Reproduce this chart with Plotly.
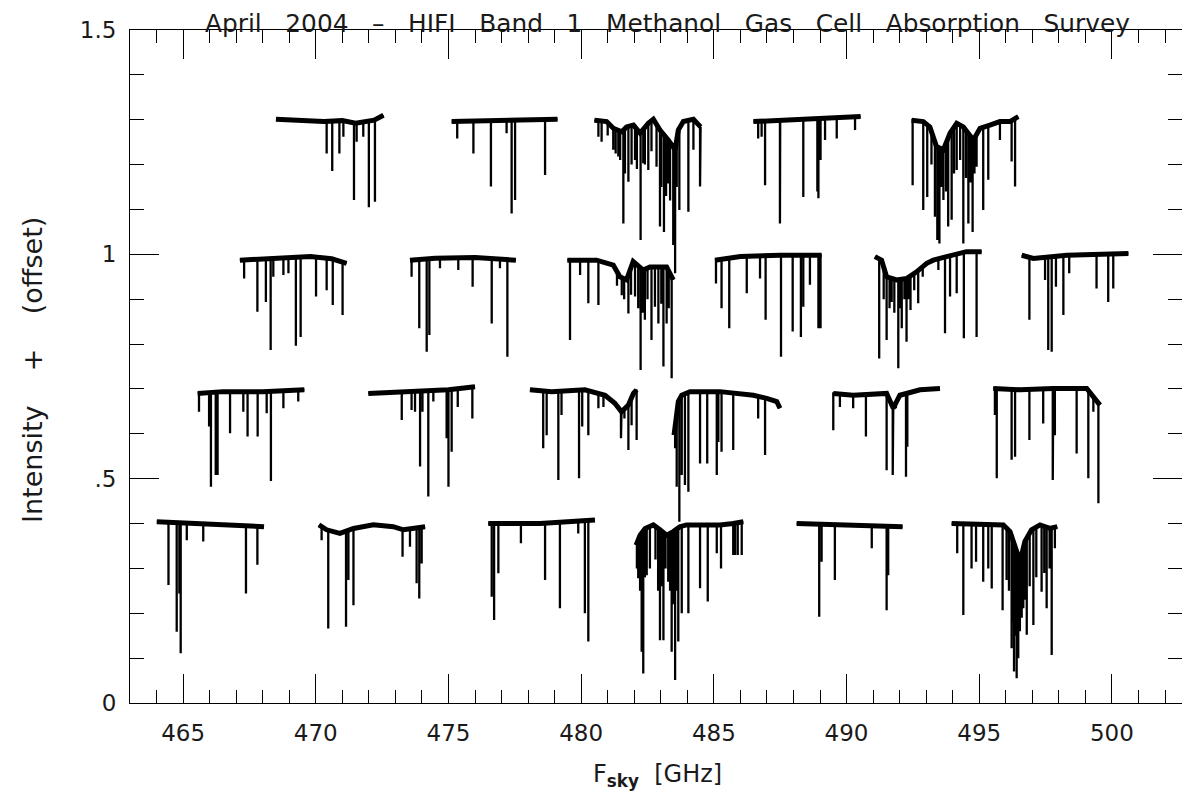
import numpy as np
import plotly.graph_objects as go

# ---------------- data (frequency in GHz, intensity + offset) ----------------
# each segment: continuum knots (f, level) and absorption lines (f, minimum)
r1a_cont = [(468.50, 1.301), (469.30, 1.298), (470.30, 1.296), (471.00, 1.298), (471.50, 1.292), (472.20, 1.299), (472.55, 1.310)]
r1a_lines = [(470.41, 1.225), (470.62, 1.186), (470.89, 1.225), (471.04, 1.262), (471.44, 1.121), (471.54, 1.251),
             (471.79, 1.262), (472.00, 1.105), (472.23, 1.117)]
r1b_cont = [(475.12, 1.296), (476.30, 1.298), (477.80, 1.299), (479.11, 1.301)]
r1b_lines = [(475.33, 1.258), (475.94, 1.225), (476.60, 1.151), (477.19, 1.270), (477.38, 1.091), (477.51, 1.121), (478.64, 1.177)]
r1c_cont = [(480.50, 1.299), (480.96, 1.296), (481.21, 1.281), (481.53, 1.273), (481.71, 1.284), (481.97, 1.288), (482.22, 1.270),
            (482.53, 1.292), (482.72, 1.301), (482.97, 1.277), (483.28, 1.255), (483.54, 1.233), (483.66, 1.277), (483.85, 1.296),
            (484.23, 1.301), (484.50, 1.284)]
r1c_lines = [(480.65, 1.262), (480.77, 1.251), (481.00, 1.265), (481.21, 1.233), (481.30, 1.225), (481.40, 1.218), (481.47, 1.210),
             (481.59, 1.069), (481.65, 1.180), (481.78, 1.162), (481.90, 1.200), (482.03, 1.210), (482.10, 1.190), (482.24, 1.032),
             (482.34, 1.203), (482.40, 1.200), (482.53, 1.188), (482.65, 1.230), (482.84, 1.195), (482.97, 1.062), (483.02, 1.150),
             (483.12, 1.050), (483.20, 1.130), (483.28, 1.158), (483.35, 1.120), (483.47, 1.021), (483.54, 0.958), (483.60, 1.150),
             (483.70, 1.099), (484.04, 1.095), (484.23, 1.233), (484.48, 1.151)]
r1d_cont = [(486.49, 1.296), (487.50, 1.299), (489.00, 1.301), (490.53, 1.307)]
r1d_lines = [(486.67, 1.258), (486.80, 1.262), (486.93, 1.154), (487.49, 1.069), (488.37, 1.128), (488.90, 1.140), (488.94, 1.125),
             (489.02, 1.210), (489.19, 1.255), (489.63, 1.258), (490.32, 1.277)]
r1e_cont = [(492.45, 1.299), (492.89, 1.296), (493.14, 1.284), (493.39, 1.240), (493.65, 1.233), (493.90, 1.270), (494.15, 1.292),
            (494.40, 1.284), (494.78, 1.255), (495.03, 1.281), (495.40, 1.288), (495.78, 1.296), (496.16, 1.296), (496.47, 1.307)]
r1e_lines = [(492.49, 1.154), (492.89, 1.099), (493.04, 1.128), (493.20, 1.200), (493.33, 1.084), (493.42, 1.032), (493.50, 1.024),
             (493.58, 1.150), (493.65, 1.121), (493.75, 1.140), (493.83, 1.062), (493.96, 1.077), (494.05, 1.180), (494.15, 1.188),
             (494.28, 1.210), (494.40, 1.024), (494.50, 1.170), (494.59, 1.069), (494.67, 1.160), (494.75, 1.050), (494.82, 1.180),
             (494.90, 1.195), (495.15, 1.099), (495.34, 1.166), (495.78, 1.255), (496.22, 1.207), (496.35, 1.151)]

r2a_cont = [(467.14, 0.987), (468.50, 0.992), (469.80, 0.995), (470.60, 0.990), (471.16, 0.980)]
r2a_lines = [(467.30, 0.946), (467.80, 0.872), (468.12, 0.894), (468.30, 0.787), (468.40, 0.950), (468.78, 0.954), (468.97, 0.958),
             (469.25, 0.796), (469.43, 0.816), (470.01, 0.906), (470.41, 0.920), (470.64, 0.887), (471.01, 0.865)]
r2b_cont = [(473.55, 0.987), (474.50, 0.991), (476.00, 0.993), (477.54, 0.987)]
r2b_lines = [(473.61, 0.950), (473.90, 0.835), (474.18, 0.783), (474.28, 0.820), (474.68, 0.969), (475.37, 0.965), (475.91, 0.928),
             (476.63, 0.846), (476.94, 0.969), (477.22, 0.772)]
r2c_cont = [(479.48, 0.987), (480.58, 0.987), (481.21, 0.976), (481.46, 0.950), (481.71, 0.943), (481.96, 0.984), (482.34, 0.965),
            (482.59, 0.972), (482.97, 0.972), (483.22, 0.972), (483.47, 0.943)]
r2c_lines = [(479.58, 0.809), (479.96, 0.954), (480.27, 0.891), (480.65, 0.887), (481.35, 0.930), (481.53, 0.909), (481.62, 0.900),
             (481.78, 0.868), (481.88, 0.910), (482.03, 0.906), (482.15, 0.880), (482.24, 0.742), (482.32, 0.870), (482.40, 0.854),
             (482.50, 0.900), (482.65, 0.809), (482.78, 0.883), (482.91, 0.846), (483.02, 0.890), (483.10, 0.750), (483.22, 0.846),
             (483.30, 0.880), (483.41, 0.724)]
r2d_cont = [(485.04, 0.987), (486.00, 0.995), (487.50, 0.998), (489.06, 0.998)]
r2d_lines = [(485.08, 0.935), (485.29, 0.880), (485.58, 0.835), (486.24, 0.913), (486.74, 0.946), (486.95, 0.854), (487.53, 0.772),
             (487.97, 0.828), (488.28, 0.816), (488.37, 0.883), (488.62, 0.932), (488.94, 0.835), (489.02, 0.835)]
r2e_cont = [(491.07, 0.995), (491.32, 0.987), (491.51, 0.950), (491.89, 0.943), (492.26, 0.946), (492.64, 0.961), (493.02, 0.980),
            (493.27, 0.987), (493.77, 0.995), (494.27, 1.002), (494.52, 1.006), (495.09, 1.006)]
r2e_lines = [(491.23, 0.768), (491.40, 0.900), (491.51, 0.809), (491.62, 0.880), (491.70, 0.894), (491.80, 0.870), (491.95, 0.746),
             (492.02, 0.880), (492.08, 0.835), (492.18, 0.900), (492.26, 0.805), (492.34, 0.900), (492.41, 0.876), (492.55, 0.920),
             (492.70, 0.891), (492.87, 0.950), (493.46, 0.965), (493.71, 0.824), (493.90, 0.906), (494.15, 0.913), (494.42, 0.813),
             (494.90, 0.816)]
r2f_cont = [(496.60, 0.998), (497.04, 0.991), (498.30, 0.998), (500.62, 1.002)]
r2f_lines = [(496.89, 0.854), (497.48, 0.943), (497.60, 0.787), (497.73, 0.783), (497.89, 0.928), (498.17, 0.865), (498.39, 0.958),
             (499.42, 0.924), (499.86, 0.894), (500.05, 0.924)]

r3a_cont = [(465.55, 0.690), (466.50, 0.694), (468.00, 0.694), (469.57, 0.698)]
r3a_lines = [(465.60, 0.649), (465.98, 0.616), (466.05, 0.482), (466.23, 0.508), (466.30, 0.508), (466.77, 0.601), (467.27, 0.649),
             (467.43, 0.594), (467.81, 0.594), (468.15, 0.646), (468.31, 0.495), (468.78, 0.657), (469.34, 0.672)]
r3b_cont = [(471.98, 0.690), (473.50, 0.694), (475.00, 0.698), (476.00, 0.705)]
r3b_lines = [(473.24, 0.631), (473.61, 0.653), (473.74, 0.649), (473.93, 0.527), (474.02, 0.649), (474.24, 0.460), (474.43, 0.672),
             (474.93, 0.590), (475.00, 0.482), (475.12, 0.560), (475.35, 0.660), (475.90, 0.634)]
r3c_cont = [(478.07, 0.698), (478.89, 0.694), (480.14, 0.698), (480.90, 0.686), (481.27, 0.668), (481.52, 0.649), (481.78, 0.664),
            (481.97, 0.690), (482.09, 0.698)]
r3c_lines = [(478.57, 0.568), (478.70, 0.597), (479.14, 0.497), (479.26, 0.642), (479.92, 0.501), (480.04, 0.616), (480.27, 0.597),
             (480.65, 0.657), (480.84, 0.660), (481.50, 0.590), (481.63, 0.634), (481.78, 0.564), (481.90, 0.619), (482.09, 0.586)]
r3d_cont = [(483.50, 0.597), (483.66, 0.672), (483.79, 0.686), (484.10, 0.694), (485.23, 0.694), (486.49, 0.686), (486.99, 0.679),
            (487.37, 0.672), (487.49, 0.657)]
r3d_lines = [(483.54, 0.568), (483.60, 0.482), (483.70, 0.404), (483.79, 0.508), (483.91, 0.486), (484.04, 0.471), (484.48, 0.534),
             (484.75, 0.534), (485.11, 0.508), (485.17, 0.582), (485.29, 0.560), (485.73, 0.564), (486.67, 0.634), (486.93, 0.553)]
r3e_cont = [(489.50, 0.690), (490.25, 0.686), (491.51, 0.690), (491.76, 0.657), (492.01, 0.686), (492.77, 0.698), (493.52, 0.701)]
r3e_lines = [(489.50, 0.608), (489.75, 0.660), (490.25, 0.657), (490.73, 0.594), (491.51, 0.519), (491.74, 0.508), (491.86, 0.657),
             (492.24, 0.504), (492.29, 0.571)]
r3f_cont = [(495.53, 0.701), (496.54, 0.698), (497.79, 0.701), (499.05, 0.701), (499.55, 0.664)]
r3f_lines = [(495.59, 0.642), (495.66, 0.501), (496.22, 0.542), (496.35, 0.549), (496.89, 0.586), (497.41, 0.623), (497.77, 0.497),
             (497.85, 0.597), (498.67, 0.556), (499.11, 0.501), (499.30, 0.649), (499.49, 0.445)]

r4a_cont = [(464.01, 0.404), (465.89, 0.400), (468.05, 0.393)]
r4a_lines = [(464.45, 0.263), (464.76, 0.159), (464.86, 0.244), (464.91, 0.111), (465.14, 0.363), (465.76, 0.360), (467.37, 0.244),
             (467.80, 0.308)]
r4b_cont = [(470.12, 0.397), (470.41, 0.386), (470.91, 0.378), (471.42, 0.389), (472.17, 0.397), (472.92, 0.393), (473.30, 0.386),
            (474.12, 0.393)]
r4b_lines = [(470.22, 0.363), (470.47, 0.166), (471.14, 0.170), (471.23, 0.274), (471.42, 0.218), (473.27, 0.326), (473.55, 0.348),
             (473.80, 0.267), (473.90, 0.233), (473.99, 0.311)]
r4c_cont = [(476.50, 0.400), (478.45, 0.400), (480.52, 0.408)]
r4c_lines = [(476.63, 0.237), (476.72, 0.185), (476.88, 0.289), (477.73, 0.356), (478.64, 0.274), (479.20, 0.211), (479.89, 0.378),
             (480.14, 0.200), (480.27, 0.137)]
r4d_cont = [(482.07, 0.352), (482.22, 0.374), (482.41, 0.389), (482.72, 0.397), (482.97, 0.386), (483.22, 0.374), (483.47, 0.382),
            (483.72, 0.393), (483.97, 0.397), (484.60, 0.397), (485.23, 0.397), (485.73, 0.400), (486.11, 0.404)]
r4d_lines = [(482.10, 0.300), (482.15, 0.278), (482.22, 0.250), (482.28, 0.114), (482.34, 0.066), (482.40, 0.280), (482.47, 0.285),
             (482.59, 0.300), (482.80, 0.320), (482.90, 0.250), (482.97, 0.140), (483.03, 0.260), (483.10, 0.140), (483.18, 0.300),
             (483.28, 0.270), (483.35, 0.250), (483.41, 0.114), (483.48, 0.220), (483.54, 0.051), (483.60, 0.250), (483.66, 0.137),
             (483.79, 0.200), (484.04, 0.200), (484.48, 0.256), (484.77, 0.226), (485.11, 0.334), (485.27, 0.300), (485.73, 0.330),
             (485.80, 0.330), (485.90, 0.330), (486.05, 0.330)]
r4e_cont = [(488.12, 0.400), (490.00, 0.397), (492.11, 0.393)]
r4e_lines = [(488.97, 0.192), (489.06, 0.315), (489.56, 0.274), (490.95, 0.345), (491.51, 0.207), (491.57, 0.285)]
r4f_cont = [(493.96, 0.400), (495.91, 0.397), (496.16, 0.382), (496.35, 0.345), (496.54, 0.315), (496.72, 0.360), (496.97, 0.386),
            (497.29, 0.397), (497.66, 0.389), (497.94, 0.393)]
r4f_lines = [(494.17, 0.334), (494.40, 0.196), (494.71, 0.300), (494.88, 0.315), (495.15, 0.270), (495.34, 0.300), (495.47, 0.255),
             (495.88, 0.207), (496.03, 0.274), (496.12, 0.250), (496.22, 0.122), (496.27, 0.180), (496.31, 0.070), (496.36, 0.150),
             (496.41, 0.055), (496.47, 0.100), (496.53, 0.160), (496.60, 0.190), (496.66, 0.211), (496.72, 0.230), (496.79, 0.152),
             (496.90, 0.260), (497.04, 0.174), (497.15, 0.280), (497.35, 0.248), (497.45, 0.290), (497.54, 0.211), (497.65, 0.300),
             (497.73, 0.107), (497.85, 0.345)]

x_tick_vals = [465, 470, 475, 480, 485, 490, 495, 500]
y_tick_vals = [0, 0.5, 1, 1.5]
y_tick_text = ["0", ".5", "1", "1.5"]

SEGMENTS = [
    (r1a_cont, r1a_lines), (r1b_cont, r1b_lines), (r1c_cont, r1c_lines), (r1d_cont, r1d_lines), (r1e_cont, r1e_lines),
    (r2a_cont, r2a_lines), (r2b_cont, r2b_lines), (r2c_cont, r2c_lines), (r2d_cont, r2d_lines), (r2e_cont, r2e_lines),
    (r2f_cont, r2f_lines),
    (r3a_cont, r3a_lines), (r3b_cont, r3b_lines), (r3c_cont, r3c_lines), (r3d_cont, r3d_lines), (r3e_cont, r3e_lines),
    (r3f_cont, r3f_lines),
    (r4a_cont, r4a_lines), (r4b_cont, r4b_lines), (r4c_cont, r4c_lines), (r4d_cont, r4d_lines), (r4e_cont, r4e_lines),
    (r4f_cont, r4f_lines),
]

# ---------------- build traces ----------------
spec_x, spec_y, cont_x, cont_y = [], [], [], []
for cont, lines in SEGMENTS:
    cf = [c[0] for c in cont]
    cl = [c[1] for c in cont]
    events = [(f, 0, y) for f, y in cont] + [(f, 1, y) for f, y in lines]
    events.sort(key=lambda e: (e[0], e[1]))
    for f, kind, y in events:
        if kind == 0:
            spec_x.append(f); spec_y.append(y)
        else:
            top = float(np.interp(f, cf, cl))
            spec_x += [f, f, f]
            spec_y += [top, y, top]
    spec_x.append(None); spec_y.append(None)
    cont_x += cf + [None]
    cont_y += cl + [None]

fig = go.Figure()
fig.add_trace(go.Scatter(x=cont_x, y=cont_y, mode="lines", line=dict(color="black", width=5),
                         hoverinfo="skip", showlegend=False))
fig.add_trace(go.Scatter(x=spec_x, y=spec_y, mode="lines", line=dict(color="black", width=2.3),
                         showlegend=False))

FONT = "DejaVu Sans"
TXT = "#1a1a1a"
axis_common = dict(showline=True, linecolor="black", linewidth=1, mirror="allticks", ticks="inside",
                   tickcolor="black", tickwidth=1, ticklen=29, showgrid=False, zeroline=False,
                   tickfont=dict(family=FONT, size=23, color=TXT))

fig.update_xaxes(range=[463, 502.64], tickvals=x_tick_vals, ticklabelstandoff=9,
                 minor=dict(dtick=1, tick0=0, ticks="inside", ticklen=13, tickcolor="black", tickwidth=1, showgrid=False),
                 **axis_common)
fig.update_yaxes(range=[0, 1.5], tickvals=y_tick_vals, ticktext=y_tick_text, ticklabelstandoff=8,
                 minor=dict(dtick=0.1, tick0=0, ticks="inside", ticklen=14, tickcolor="black", tickwidth=1, showgrid=False),
                 **axis_common)

NB = "\u00a0"
title_text = (NB * 3).join(["April", "2004", "\u2013", "HIFI", "Band", "1", "Methanol", "Gas", "Cell", "Absorption", "Survey"])

fig.update_layout(
    width=1182, height=793, autosize=False,
    margin=dict(l=130, r=0, t=30, b=90),
    paper_bgcolor="white", plot_bgcolor="white",
    annotations=[
        dict(text=title_text, xref="paper", yref="paper", x=0.5114, y=1.0104, xanchor="center", yanchor="middle",
             showarrow=False, font=dict(family=FONT, size=24.8, color=TXT)),
        dict(text="F<sub><b>sky</b></sub>" + NB * 2 + "[GHz]", xref="paper", yref="paper", x=0.501, y=-0.108,
             xanchor="center", yanchor="middle", showarrow=False, font=dict(family=FONT, size=24, color=TXT)),
        dict(text="Intensity" + NB * 4 + "+" + NB * 4 + "(offset)", xref="paper", yref="paper", x=-0.0922, y=0.4948,
             xanchor="center", yanchor="middle", textangle=-90, showarrow=False,
             font=dict(family=FONT, size=27, color=TXT)),
    ],
)

fig.write_html("out.html")
